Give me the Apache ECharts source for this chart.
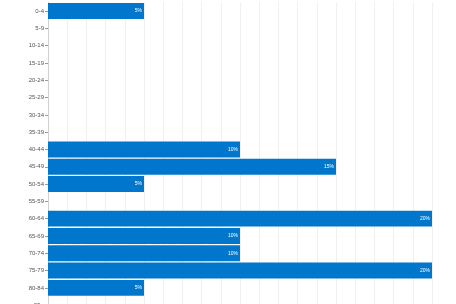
<!DOCTYPE html>
<html>
<head>
<meta charset="utf-8">
<script src="https://cdn.jsdelivr.net/npm/echarts@6/dist/echarts.min.js"></script>
<style>
  html, body { margin: 0; padding: 0; background: #fff; overflow: hidden; }
  #chart { width: 456px; height: 320px; }
</style>
</head>
<body>
<div id="chart"></div>
<script>
// Age groups and share of people in each group (%)
const ageGroups = ['0-4', '5-9', '10-14', '15-19', '20-24', '25-29', '30-34', '35-39',
  '40-44', '45-49', '50-54', '55-59', '60-64', '65-69', '70-74', '75-79', '80-84', '85+'];
const sharePercent = [5, 0, 0, 0, 0, 0, 0, 0, 10, 15, 5, 0, 20, 10, 10, 20, 5, 0];

const chart = echarts.init(document.getElementById('chart'), null, { renderer: 'canvas' });

chart.setOption({
  animation: false,
  grid: { left: 48, right: 24, top: 2.4, bottom: 6.2, containLabel: false },
  xAxis: {
    type: 'value',
    min: 0,
    max: 20,
    interval: 1,
    axisLine: { show: false },
    axisTick: { show: false },
    axisLabel: { show: false },
    splitLine: { show: true, lineStyle: { color: '#f0f0f0', width: 1 } }
  },
  yAxis: {
    type: 'category',
    inverse: true,
    data: ageGroups,
    axisLine: { show: true, lineStyle: { color: '#d0d0d0', width: 1 } },
    axisTick: { show: true, length: 3, alignWithLabel: true, lineStyle: { color: '#999' } },
    axisLabel: { margin: 4, fontSize: 6, color: '#555', fontFamily: 'Liberation Sans, Arial, sans-serif' }
  },
  series: [{
    type: 'bar',
    data: sharePercent,
    barCategoryGap: '8%',
    itemStyle: { color: '#0077cc' },
    label: {
      show: true,
      position: 'insideRight',
      distance: 2,
      color: '#ffffff',
      fontSize: 5,
      fontFamily: 'Liberation Sans, Arial, sans-serif',
      formatter: p => (p.value > 0 ? p.value + '%' : '')
    }
  }]
});
</script>
</body>
</html>
